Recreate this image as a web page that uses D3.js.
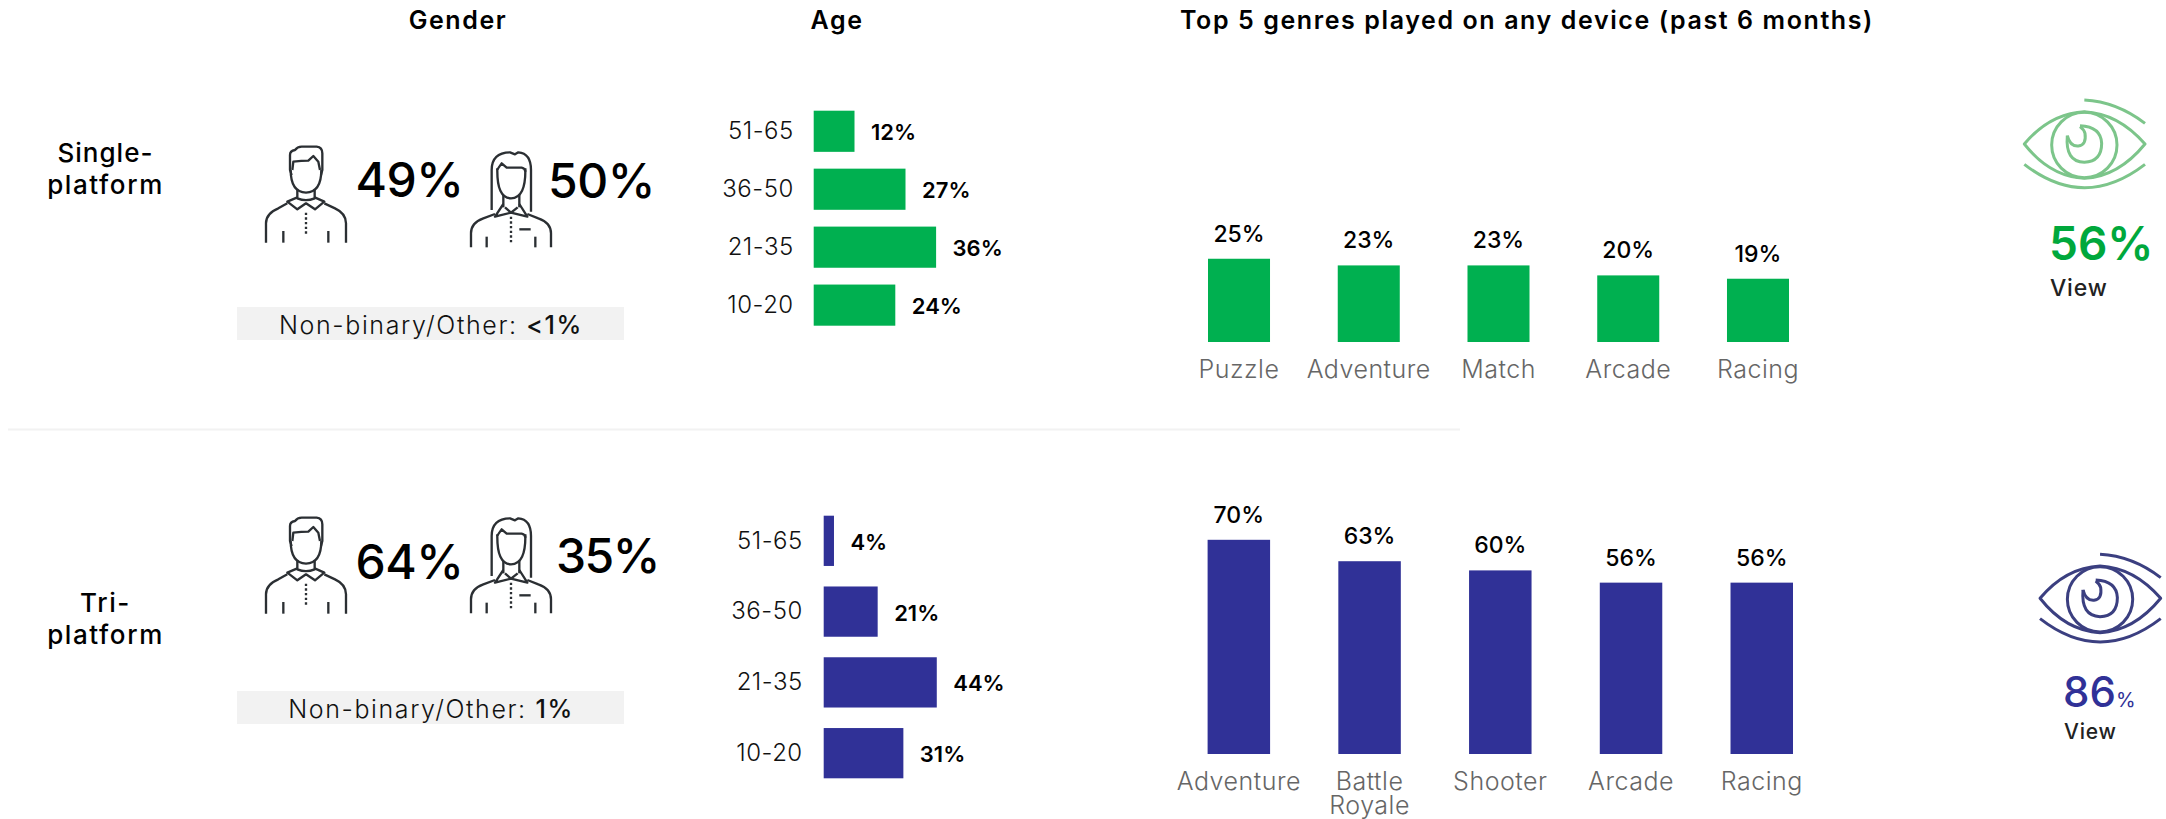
<!DOCTYPE html>
<html>
<head>
<meta charset="utf-8">
<script src="https://cdn.jsdelivr.net/npm/d3@7"></script>
<style>
  html, body { margin: 0; padding: 0; background: #fff; }
  svg { display: block; }
  text { font-family: Inter, "Open Sans", sans-serif; }
  .domain { display: none; }
  .icon path { fill: none; stroke-linecap: butt; stroke-linejoin: round; }
</style>
</head>
<body>
<svg id="chart" width="2166" height="819"></svg>
<script>
// Audience profile values
const ageGroups = ["51-65", "36-50", "21-35", "10-20"];
const singleAge = [12, 27, 36, 24];
const triAge = [4, 21, 44, 31];

const singleGenres = ["Puzzle", "Adventure", "Match", "Arcade", "Racing"];
const singleGenreValues = [25, 23, 23, 20, 19];
const triGenres = ["Adventure", "Battle Royale", "Shooter", "Arcade", "Racing"];
const triGenreValues = [70, 63, 60, 56, 56];

const singleGender = { male: 49, female: 50, other: "<1%" };
const triGender = { male: 64, female: 35, other: "1%" };
const singleView = 56;
const triView = 86;

const GREEN = "#00b050";
const BLUE = "#303197";

const svg = d3.select("#chart");

function addText(x, y, str, size, weight, fill, anchor, spacing) {
  return svg.append("text")
    .attr("x", x).attr("y", y)
    .attr("font-size", size).attr("font-weight", weight)
    .attr("fill", fill || "#000")
    .attr("text-anchor", anchor || "middle")
    .attr("letter-spacing", spacing || 0)
    .text(str);
}

// Column headings
addText(458, 29, "Gender", 25, 600, "#000", "middle", 1.6);
addText(837, 29, "Age", 25, 600, "#000", "middle", 1.6);
addText(1527, 29, "Top 5 genres played on any device (past 6 months)", 25, 600, "#000", "middle", 1.6);

// Row headings
addText(105.5, 162, "Single-", 26, 500, "#000", "middle", 1.0);
addText(105.5, 194, "platform", 26, 500, "#000", "middle", 1.6);
addText(105.5, 612, "Tri-", 26, 500, "#000", "middle", 1.6);
addText(105.5, 644, "platform", 26, 500, "#000", "middle", 1.6);

// Divider between the two rows
svg.append("line").attr("x1", 8).attr("x2", 1460).attr("y1", 429.5).attr("y2", 429.5)
  .attr("stroke", "#f2f2f2").attr("stroke-width", 2);

// Line icons, outlined on a 3x grid
const maleIcon = [
  "M155 165 L150 150 L150 105 Q150 92 165 90 Q172 80 185 80 L230 80 Q247 82 247 100 L247 150 L243 165",
  "M157 150 L160 125 Q185 122 205 122 L220 108 L235 125 L240 150",
  "M152 150 Q152 216 198 218 Q244 216 244 150",
  "M172 208 L172 235 Q198 246 224 235 L224 208",
  "M172 232 L142 245 L172 268 L198 250 L225 268 L253 245 L224 232",
  "M142 250 L115 265 Q78 280 78 310 L78 368",
  "M253 250 L285 265 Q318 280 318 310 L318 368",
  "M130 333 V368", "M265 333 V368"
];
const maleDots = "M198 278 V342";
const femaleIcon = [
  "M755 270 L755 150 Q755 98 810 97 L825 103 L835 97 Q873 100 873 150 L873 275",
  "M772 150 Q772 148 785 130 L800 143 L845 143 Q856 145 856 155",
  "M772 145 Q770 235 813 235 Q858 235 856 145",
  "M790 225 V262", "M838 225 V262",
  "M790 252 L765 290 L813 278 L862 290 L838 252",
  "M795 262 L813 278 L833 262",
  "M765 282 L730 295 Q693 308 693 340 L693 382",
  "M862 282 L895 295 Q933 308 933 340 L933 382",
  "M740 350 V382", "M886 350 V382", "M838 328 H872"
];
const femaleDots = "M813 290 V370";

function person(paths, dots, tx, ty) {
  const g = svg.append("g").attr("class", "icon")
    .attr("transform", `translate(${tx},${ty}) scale(${1 / 3})`);
  g.selectAll("path.line").data(paths).join("path").attr("class", "line")
    .attr("d", d => d).attr("stroke", "#2b2f33").attr("stroke-width", 7);
  g.append("path").attr("d", dots).attr("stroke", "#2b2f33")
    .attr("stroke-width", 7).attr("stroke-dasharray", "7 7");
}
person(maleIcon, maleDots, 240, 120);
person(femaleIcon, femaleDots, 240, 120);
person(maleIcon, maleDots, 240, 491);
person(femaleIcon, femaleDots, 240, 486);

// Gender shares
addText(355.5, 197, singleGender.male + "%", 48, 500, "#000", "start", -0.5);
addText(548, 198, singleGender.female + "%", 48, 500, "#000", "start", -0.5);
addText(355.5, 579, triGender.male + "%", 48, 500, "#000", "start", -0.5);
addText(556, 573, triGender.female + "%", 48, 500, "#000", "start", -1.5);

function otherBox(y0, value, baseline) {
  svg.append("rect").attr("x", 237).attr("y", y0).attr("width", 387).attr("height", 33).attr("fill", "#f2f2f2");
  const t = addText(431, baseline, "Non-binary/Other: ", 25, 300, "#111", "middle", 1.6);
  t.append("tspan").attr("font-weight", 500).text(value);
}
otherBox(307, singleGender.other, 334);
otherBox(691, triGender.other, 718);

// Horizontal age bars with their band axis
function ageChart(values, x0, unit, top, bottom, color, pad) {
  const y = d3.scaleBand().domain(ageGroups).range([top, bottom]).paddingInner(0.29);
  const x = d3.scaleLinear().domain([0, 50]).range([x0, x0 + 50 * unit]);
  const rows = ageGroups.map((k, i) => ({ k, v: values[i] }));

  svg.append("g").selectAll("rect").data(rows).join("rect")
    .attr("x", x(0)).attr("y", d => y(d.k))
    .attr("width", d => x(d.v) - x(0)).attr("height", y.bandwidth())
    .attr("fill", color);

  svg.append("g").attr("transform", `translate(${x0},0)`)
    .call(d3.axisLeft(y).tickSize(0).tickPadding(pad))
    .call(g => g.selectAll("text").attr("font-size", 24).attr("font-weight", 300)
      .attr("fill", "#111").attr("letter-spacing", 0.5).style("font-family", "Inter, sans-serif"));

  svg.append("g").selectAll("text").data(rows).join("text")
    .attr("x", d => x(d.v) + 16.5)
    .attr("y", d => y(d.k) + y.bandwidth() / 2 + 9)
    .attr("font-size", 22).attr("font-weight", 600).attr("fill", "#000")
    .text(d => d.v + "%");
}
ageChart(singleAge, 813.7, 3.4, 110.7, 325.7, GREEN, 20);
ageChart(triAge, 823.7, 2.57, 515.7, 778.3, BLUE, 21);

// Vertical genre bars with their band axis
function genreChart(cats, values, x0, x1, baseY, unit, color, pad) {
  const x = d3.scaleBand().domain(cats).range([x0, x1]).paddingInner(0.522);
  const y = d3.scaleLinear().domain([0, 100]).range([baseY, baseY - 100 * unit]);
  const rows = cats.map((k, i) => ({ k, v: values[i] }));

  svg.append("g").selectAll("rect").data(rows).join("rect")
    .attr("x", d => x(d.k)).attr("y", d => y(d.v))
    .attr("width", x.bandwidth()).attr("height", d => baseY - y(d.v))
    .attr("fill", color);

  svg.append("g").selectAll("text").data(rows).join("text")
    .attr("x", d => x(d.k) + x.bandwidth() / 2)
    .attr("y", d => y(d.v) - 17)
    .attr("text-anchor", "middle")
    .attr("font-size", 23).attr("font-weight", 500).attr("fill", "#000")
    .text(d => d.v + "%");

  svg.append("g").attr("transform", `translate(0,${baseY})`)
    .call(d3.axisBottom(x).tickSize(0).tickPadding(pad))
    .call(g => g.selectAll("text").attr("font-size", 25).attr("font-weight", 300)
      .attr("fill", "#666").attr("letter-spacing", 0.5).style("font-family", "Inter, sans-serif")
      .each(function (d) {
        // Two-word categories break over two lines
        const words = d.split(" ");
        if (words.length < 2) return;
        const t = d3.select(this).text(null);
        words.forEach((w, i) => t.append("tspan").attr("x", 0).attr("dy", i ? "0.96em" : "0.71em").text(w));
      }));
}
genreChart(singleGenres, singleGenreValues, 1208, 1789, 342, 3.33, GREEN, 18.7);
genreChart(triGenres, triGenreValues, 1207.6, 1793, 754, 3.06, BLUE, 18);

// Eye icon beside the viewing share
const eyeParts = [
  "M103 192 Q180 100 283 95 Q385 100 465 192 Q385 290 283 295 Q180 290 103 192 Z",
  "M103 253 Q283 393 465 253",
  "M283 60 Q380 65 465 130",
  "M232 167 Q225 245 283 247 Q335 245 335 190 Q333 140 270 137",
  "M232 167 Q240 200 265 198 Q290 195 285 160 Q283 150 270 140"
];
function eye(tx, ty, color) {
  const g = svg.append("g").attr("class", "icon")
    .attr("transform", `translate(${tx},${ty}) scale(${1 / 3})`);
  g.selectAll("path").data(eyeParts).join("path")
    .attr("d", d => d).attr("stroke", color).attr("stroke-width", 9);
  g.append("circle").attr("cx", 283).attr("cy", 195).attr("r", 98)
    .attr("fill", "none").attr("stroke", color).attr("stroke-width", 9);
}
eye(1990, 80, "#7cc58a");
eye(2005.7, 534.3, "#3b3f80");

addText(2049, 260, singleView + "%", 46, 600, "#00a83c", "start");
addText(2050, 296, "View", 23, 500, "#222", "start", 0.8);

const triLabel = addText(2063, 707, triView, 42, 500, BLUE, "start");
triLabel.append("tspan").attr("font-size", 20).attr("font-weight", 400).text("%");
addText(2064, 739, "View", 21, 500, "#222", "start", 0.8);
</script>
</body>
</html>
